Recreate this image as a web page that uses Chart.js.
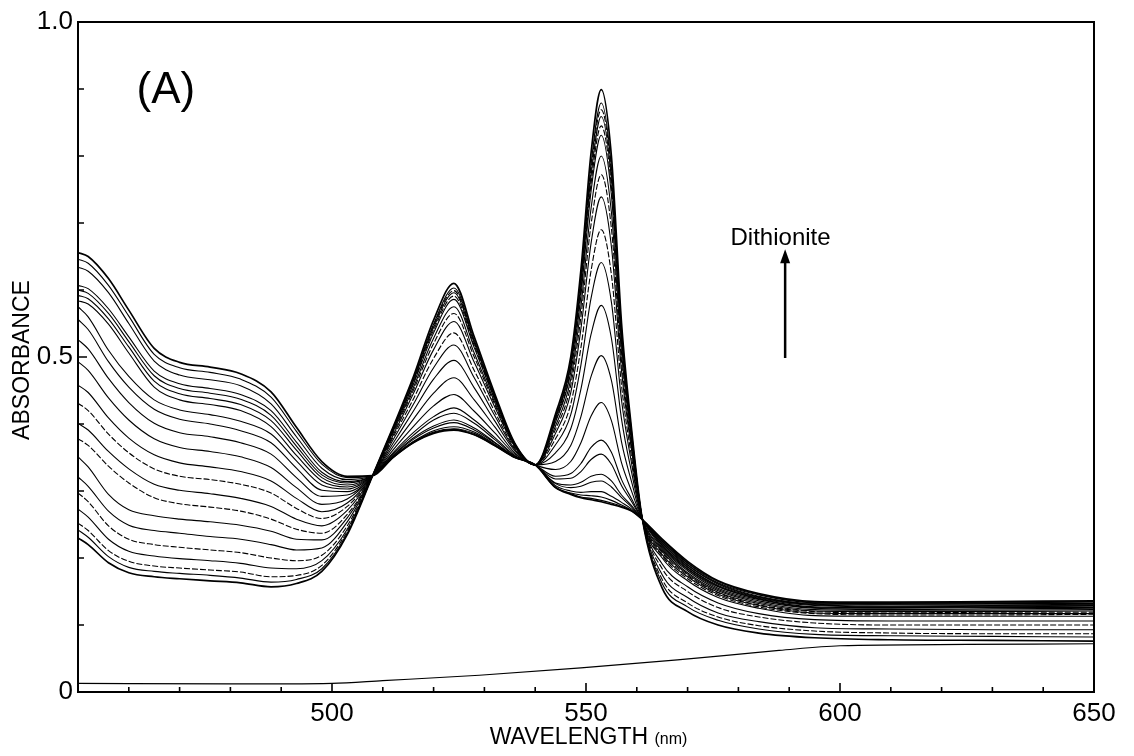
<!DOCTYPE html>
<html>
<head>
<meta charset="utf-8">
<script src="https://cdn.jsdelivr.net/npm/chart.js@4.4.1/dist/chart.umd.min.js"></script>
<style>
  html, body { margin: 0; padding: 0; background: #fff; }
  canvas { display: block; }
</style>
</head>
<body>
<canvas id="spectra" width="1134" height="756"></canvas>
<script>
const wavelength = [450, 452, 456, 460, 465, 470, 476, 482, 488, 493, 498, 503, 508,
  512, 516, 520, 524, 528, 532, 536, 540, 544, 547, 549, 551, 553, 555, 557, 559, 561,
  565, 570, 576, 584, 595, 610, 630, 650];

// absorbance scans, oxidized first -> fully reduced by dithionite last
const scan01 = [.656,.650,.617,.570,.513,.492,.485,.475,.448,.395,.344,.322,.323, .350,.372,.386,.391,.384,.368,.350,.339,.305,.295,.290,.287,.284,.280,.276,.270,.258, .228,.195,.166,.147,.135,.134,.135,.136];
const scan02 = [.646,.640,.607,.561,.504,.484,.477,.467,.440,.389,.340,.320,.323, .350,.372,.387,.392,.384,.368,.350,.339,.305,.296,.291,.289,.286,.282,.277,.270,.258, .227,.193,.165,.146,.134,.133,.134,.135];
const scan03 = [.634,.628,.596,.550,.494,.473,.466,.457,.430,.381,.334,.317,.323, .350,.373,.388,.393,.386,.369,.350,.339,.306,.297,.294,.293,.291,.286,.279,.271,.258, .225,.192,.163,.145,.133,.132,.133,.134];
const scan04 = [.607,.602,.572,.530,.479,.460,.453,.444,.420,.373,.328,.314,.323, .351,.374,.390,.396,.388,.370,.351,.339,.308,.300,.298,.299,.299,.292,.283,.273,.258, .224,.190,.162,.143,.132,.131,.132,.132];
const scan05 = [.600,.595,.565,.523,.472,.453,.446,.437,.413,.367,.324,.312,.323, .352,.377,.394,.402,.391,.372,.351,.339,.311,.305,.307,.313,.315,.306,.290,.276,.258, .222,.189,.161,.142,.131,.130,.130,.131];
const scan06 = [.592,.587,.557,.515,.464,.445,.438,.429,.405,.361,.320,.309,.323, .353,.379,.397,.406,.394,.373,.351,.339,.312,.309,.313,.322,.325,.315,.294,.278,.258, .221,.187,.159,.141,.130,.128,.129,.130];
const scan07 = [.584,.579,.549,.506,.455,.436,.429,.420,.396,.353,.315,.306,.323, .355,.383,.406,.416,.401,.377,.352,.339,.318,.319,.329,.347,.355,.340,.308,.284,.258, .219,.186,.158,.140,.129,.127,.128,.129];
const scan08 = [.575,.560,.510,.471,.436,.421,.414,.404,.385,.345,.309,.303,.323, .357,.387,.411,.424,.406,.380,.353,.339,.322,.326,.341,.365,.376,.358,.317,.288,.259, .218,.184,.157,.139,.127,.126,.127,.128];
const scan09 = [.556,.541,.493,.455,.422,.407,.400,.390,.372,.334,.301,.299,.323, .361,.396,.427,.444,.419,.387,.355,.339,.332,.344,.372,.412,.432,.405,.342,.299,.259, .216,.183,.155,.138,.126,.125,.126,.126];
const scan10 = [.526,.512,.468,.432,.401,.387,.381,.372,.355,.320,.292,.294,.323, .366,.407,.446,.469,.436,.396,.357,.339,.344,.368,.411,.471,.502,.465,.373,.313,.259, .214,.181,.153,.136,.125,.123,.124,.125];
const scan11 = [.493,.480,.439,.406,.378,.365,.359,.351,.335,.305,.280,.288,.323, .371,.419,.467,.495,.454,.405,.360,.339,.357,.393,.452,.534,.577,.528,.407,.327,.260, .212,.178,.151,.134,.123,.122,.122,.123];
const scan12 = [.458,.447,.409,.379,.354,.342,.336,.329,.315,.289,.269,.282,.323, .376,.429,.484,.518,.469,.413,.362,.339,.369,.414,.488,.588,.641,.582,.435,.340,.260, .210,.176,.149,.132,.121,.120,.120,.121];
const scan13 = [.431,.420,.385,.357,.333,.322,.317,.310,.297,.274,.259,.277,.323, .380,.437,.498,.536,.480,.419,.364,.339,.378,.430,.514,.629,.690,.623,.457,.349,.261, .208,.174,.148,.130,.120,.118,.119,.119];
const scan14 = [.401,.391,.359,.333,.310,.301,.296,.289,.277,.258,.248,.271,.323, .383,.445,.511,.553,.492,.426,.366,.339,.386,.447,.542,.670,.739,.665,.479,.359,.261, .205,.172,.146,.129,.118,.117,.117,.117];
const scan15 = [.378,.368,.337,.312,.290,.281,.276,.270,.258,.243,.237,.265,.323, .386,.450,.520,.565,.500,.430,.367,.339,.392,.458,.560,.698,.772,.692,.493,.365,.261, .203,.169,.144,.127,.117,.115,.115,.116];
const scan16 = [.351,.336,.295,.272,.263,.258,.254,.249,.240,.228,.227,.260,.323, .388,.454,.528,.575,.506,.433,.368,.339,.397,.467,.575,.722,.800,.716,.506,.371,.261, .200,.166,.141,.125,.114,.113,.113,.113];
const scan17 = [.321,.307,.270,.249,.241,.237,.232,.228,.220,.212,.215,.254,.323, .390,.459,.536,.586,.514,.437,.369,.339,.403,.477,.592,.748,.831,.742,.520,.377,.262, .191,.157,.133,.117,.108,.106,.106,.106];
const scan18 = [.297,.284,.248,.228,.220,.216,.212,.208,.200,.196,.204,.248,.323, .391,.461,.540,.591,.517,.439,.369,.339,.405,.482,.600,.759,.845,.754,.526,.379,.262, .184,.150,.126,.112,.103,.100,.100,.100];
const scan19 = [.273,.261,.228,.210,.203,.199,.196,.192,.185,.184,.196,.243,.323, .392,.464,.544,.596,.521,.441,.370,.339,.408,.487,.608,.771,.859,.766,.532,.382,.262, .175,.141,.118,.105,.096,.094,.093,.093];
const scan20 = [.252,.241,.211,.195,.188,.185,.182,.179,.172,.174,.189,.240,.323, .393,.465,.547,.599,.523,.442,.370,.339,.410,.490,.613,.780,.869,.775,.537,.384,.262, .168,.133,.112,.099,.091,.088,.087,.087];
const scan21 = [.242,.231,.202,.186,.180,.177,.174,.170,.164,.168,.184,.237,.323, .394,.467,.549,.603,.525,.443,.370,.339,.411,.493,.619,.788,.879,.783,.541,.386,.262, .162,.127,.107,.094,.086,.084,.083,.082];
const scan22 = [.230,.220,.193,.178,.172,.169,.166,.163,.157,.162,.180,.235,.323, .395,.470,.555,.610,.530,.446,.371,.339,.415,.500,.630,.805,.899,.800,.550,.390,.262, .155,.120,.100,.088,.081,.078,.077,.076];

const scans = [scan01, scan02, scan03, scan04, scan05, scan06, scan07, scan08, scan09, scan10, scan11,
  scan12, scan13, scan14, scan15, scan16, scan17, scan18, scan19, scan20, scan21, scan22];

// buffer baseline (the flat line near zero)
const baselineWavelength = [450, 480, 500, 510, 529, 549, 568, 588, 600, 625, 650];
const baselineAbsorbance = [.013, .012, .013, .017, .025, .036, .048, .062, .069, .071, .072];

// tick labels
const xTickLabels = [500, 550, 600, 650];
const yTickValues = [0, 0.5, 1.0];
const yTickText = ['0', '0.5', '1.0'];

const FONT = "'Liberation Sans', Arial, sans-serif";
const dashedScans = [12, 14, 17, 19]; // plotter pen skipped on these

const datasets = scans.map((scan, i) => ({
  label: 'scan ' + (i + 1),
  data: wavelength.map((w, j) => ({ x: w, y: scan[j] })),
  borderColor: '#000',
  borderWidth: (i === 0 || i === scans.length - 1) ? 1.7 : 1.1,
  borderDash: dashedScans.includes(i) ? [6, 2] : [],
  pointRadius: 0,
  cubicInterpolationMode: 'monotone',
  fill: false
}));

datasets.push({
  label: 'baseline',
  data: baselineWavelength.map((w, j) => ({ x: w, y: baselineAbsorbance[j] })),
  borderColor: '#000',
  borderWidth: 1.2,
  pointRadius: 0,
  cubicInterpolationMode: 'monotone',
  fill: false
});

// frame, inward tick marks, axis titles and the annotations
const decorations = {
  id: 'decorations',
  afterDraw(chart) {
    const { ctx, chartArea: a, scales: { x, y } } = chart;
    ctx.save();
    ctx.strokeStyle = '#000';
    ctx.fillStyle = '#000';

    ctx.lineWidth = 2;
    ctx.strokeRect(a.left, a.top, a.right - a.left, a.bottom - a.top);

    // inward ticks
    ctx.lineWidth = 1.6;
    ctx.beginPath();
    for (let w = 460; w < 650; w += 10) {
      const px = x.getPixelForValue(w);
      const len = w % 50 === 0 ? 9 : 5;
      ctx.moveTo(px, a.bottom);
      ctx.lineTo(px, a.bottom - len);
    }
    for (let k = 1; k < 10; k++) {
      const py = y.getPixelForValue(k / 10);
      const len = k === 5 ? 9 : 6;
      ctx.moveTo(a.left, py);
      ctx.lineTo(a.left + len, py);
    }
    ctx.stroke();

    // y title
    ctx.save();
    ctx.translate(23, (a.top + a.bottom) / 2 + 3);
    ctx.rotate(-Math.PI / 2);
    ctx.font = '23px ' + FONT;
    ctx.textAlign = 'center';
    ctx.textBaseline = 'middle';
    ctx.fillText('ABSORBANCE', 0, 0);
    ctx.restore();

    // x title, units in a smaller face
    ctx.textBaseline = 'alphabetic';
    ctx.textAlign = 'left';
    ctx.font = '23px ' + FONT;
    const main = 'WAVELENGTH ';
    const mw = ctx.measureText(main).width;
    ctx.font = '16px ' + FONT;
    const uw = ctx.measureText('(nm)').width;
    const x0 = x.getPixelForValue(550.5) - (mw + uw) / 2;
    ctx.font = '23px ' + FONT;
    ctx.fillText(main, x0, 744);
    ctx.font = '16px ' + FONT;
    ctx.fillText('(nm)', x0 + mw, 744);

    // panel letter
    ctx.font = '44px ' + FONT;
    ctx.textAlign = 'center';
    ctx.fillText('(A)', x.getPixelForValue(467.3), y.getPixelForValue(0.879));

    // dithionite arrow
    ctx.font = '24px ' + FONT;
    ctx.fillText('Dithionite', x.getPixelForValue(588.3), y.getPixelForValue(0.667));
    const ax = x.getPixelForValue(589.2);
    const yTail = y.getPixelForValue(0.4985);
    const yTip = y.getPixelForValue(0.661);
    ctx.lineWidth = 2.5;
    ctx.beginPath();
    ctx.moveTo(ax, yTail);
    ctx.lineTo(ax, yTip + 12);
    ctx.stroke();
    ctx.beginPath();
    ctx.moveTo(ax, yTip);
    ctx.lineTo(ax - 5, yTip + 14);
    ctx.lineTo(ax + 5, yTip + 14);
    ctx.closePath();
    ctx.fill();

    ctx.restore();
  }
};

new Chart(document.getElementById('spectra').getContext('2d'), {
  type: 'line',
  data: { datasets: datasets },
  options: {
    responsive: false,
    animation: false,
    devicePixelRatio: 1,
    layout: { padding: { left: 0, right: 40, top: 22, bottom: 0 } },
    plugins: {
      legend: { display: false },
      tooltip: { enabled: false }
    },
    scales: {
      x: {
        type: 'linear',
        min: 450,
        max: 650,
        afterFit(scale) { scale.height = 64; },
        grid: { display: false, drawTicks: false },
        border: { display: false },
        ticks: {
          stepSize: 10,
          autoSkip: false,
          maxRotation: 0,
          padding: 6,
          color: '#000',
          font: { family: FONT, size: 26 },
          callback: (v) => xTickLabels.includes(v) ? String(v) : ''
        }
      },
      y: {
        type: 'linear',
        min: 0,
        max: 1,
        afterFit(scale) { scale.width = 78; },
        grid: { display: false, drawTicks: false },
        border: { display: false },
        ticks: {
          stepSize: 0.1,
          autoSkip: false,
          padding: 5,
          color: '#000',
          font: { family: FONT, size: 26 },
          callback: (v) => {
            const k = yTickValues.findIndex(t => Math.abs(t - v) < 1e-6);
            return k >= 0 ? yTickText[k] : '';
          }
        }
      }
    }
  },
  plugins: [decorations]
});
</script>
</body>
</html>
